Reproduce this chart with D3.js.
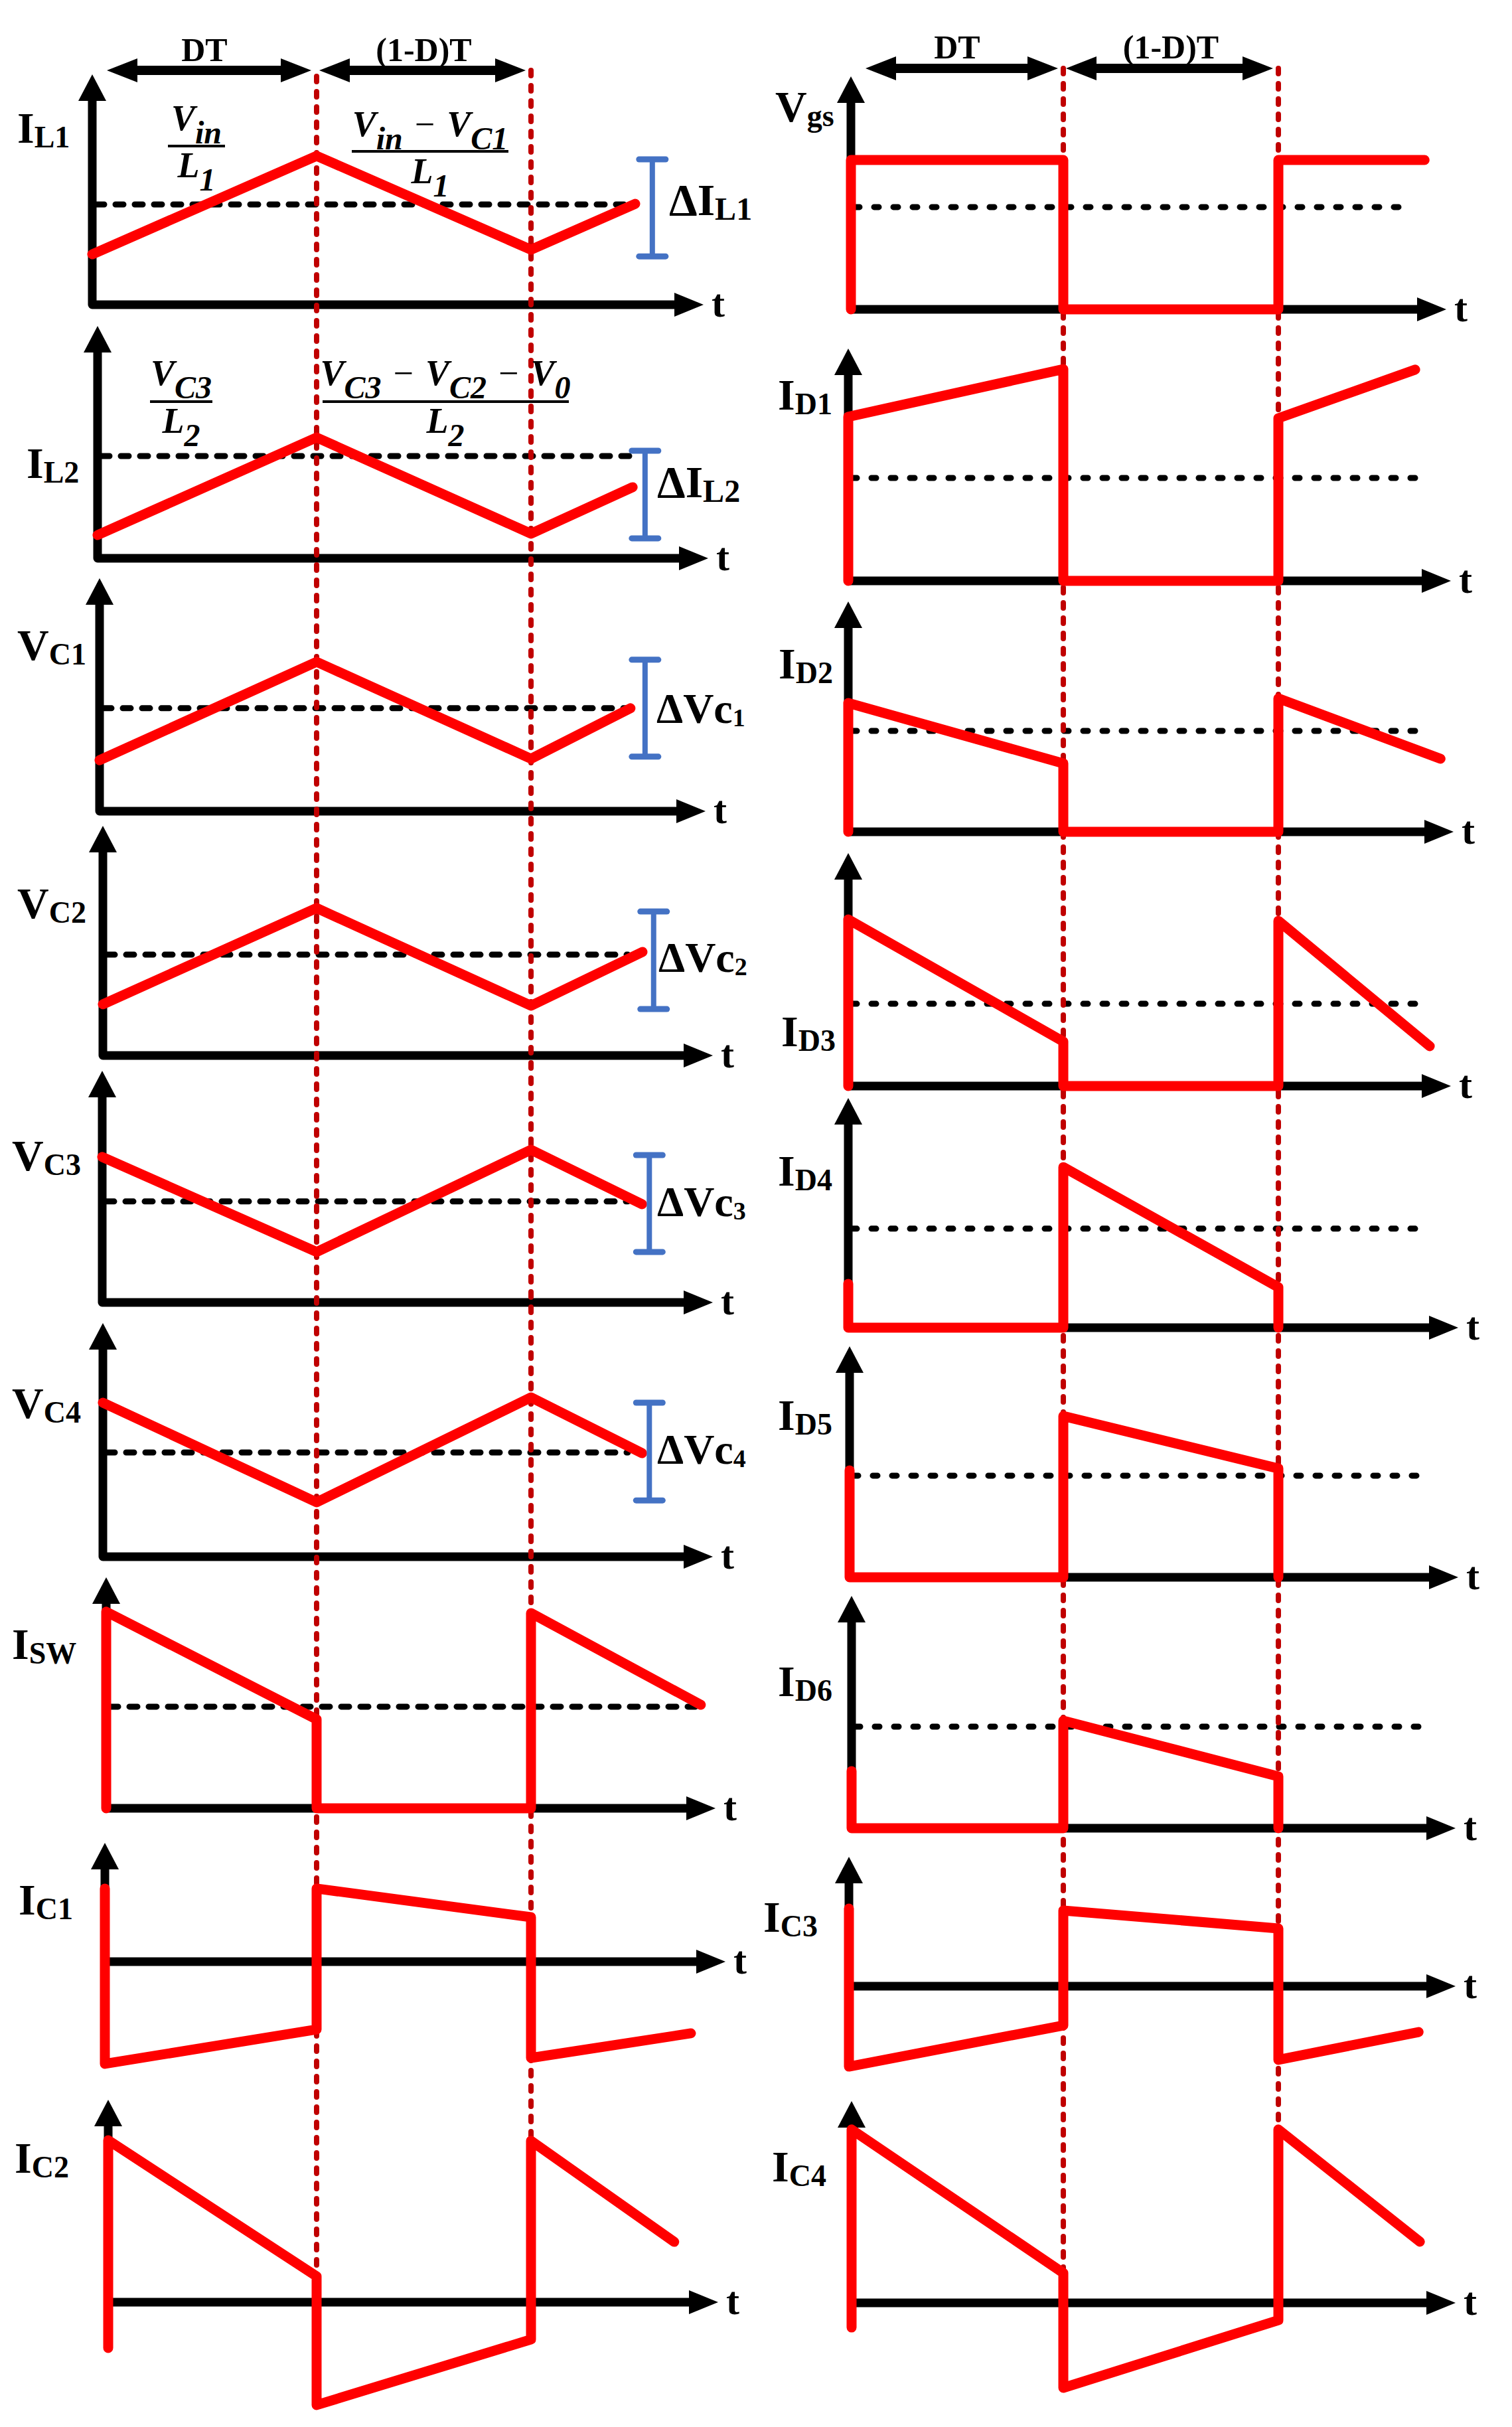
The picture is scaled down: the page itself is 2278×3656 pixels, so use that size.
<!DOCTYPE html>
<html><head><meta charset="utf-8">
<script src="https://cdn.jsdelivr.net/npm/d3@7"></script>
<style>html,body{margin:0;padding:0;background:#fff}</style>
</head><body>
<svg id="c" width="2278" height="3656" xmlns="http://www.w3.org/2000/svg"></svg>
<script>
// ===================== DATA =====================
// time in units of T : origin, DT (D = 0.5), T
const timeBreaks = [0, 0.5, 1];
// values are in % of the vertical-axis height measured from the t axis

// ---- left column ----
const tIL1 = [0, 0.5, 1, 1.243];               const vIL1 = [21.9, 64.6, 23.9, 43.8];
const tIL2 = [0, 0.5, 1, 1.237];               const vIL2 = [10.0, 52.0, 10.6, 30.6];
const tVC1 = [0, 0.5, 1, 1.232];               const vVC1 = [21.9, 64.1, 22.5, 44.2];
const tVC2 = [0, 0.5, 1, 1.260];               const vVC2 = [22.3, 64.2, 21.7, 45.1];
const tVC3 = [0, 0.5, 1, 1.259];               const vVC3 = [62.8, 21.8, 65.9, 42.4];
const tVC4 = [0, 0.5, 1, 1.259];               const vVC4 = [65.9, 23.3, 68.2, 44.3];
const tISW = [0, 0, 0.5, 0.5, 1, 1, 1.396];    const vISW = [0, 85.1, 38.5, 0, 0, 84.5, 44.8];
const tIC1 = [0, 0, 0.5, 0.5, 1, 1, 1.373];    const vIC1 = [61.5, -86.0, -57.0, 61.5, 37.4, -81.0, -60.3];
const tIC2 = [0, 0, 0.5, 0.5, 1, 1, 1.334];    const vIC2 = [-22.6, 80.0, 12.8, -50.8, -18.4, 79.7, 29.8];
// ---- right column ----
const tVgs = [0, 0, 0.5, 0.5, 1, 1, 1.340];    const vVgs = [0, 64.1, 64.1, 0, 0, 64.1, 64.1];
const tID1 = [0, 0, 0.5, 0.5, 1, 1, 1.318];    const vID1 = [0, 70.6, 91.1, 0, 0, 70.0, 90.9];
const tID2 = [0, 0, 0.5, 0.5, 1, 1, 1.377];    const vID2 = [0, 55.9, 29.7, 0, 0, 57.9, 31.7];
const tID3 = [0, 0, 0.5, 0.5, 1, 1, 1.352];    const vID3 = [0, 71.5, 19.1, 0, 0, 70.9, 17.1];
const tID4 = [0, 0, 0.5, 0.5, 1, 1];           const vID4 = [19.1, 0, 0, 69.9, 17.6, 0];
const tID5 = [0, 0, 0.5, 0.5, 1, 1];           const vID5 = [46.3, 0, 0, 69.8, 47.1, 0];
const tID6 = [0, 0, 0.5, 0.5, 1, 1];           const vID6 = [24.6, 0, 0, 46.3, 22.3, 0];
const tIC3 = [0, 0, 0.5, 0.5, 1, 1, 1.326];    const vIC3 = [60.0, -62.1, -30.3, 58.5, 44.6, -56.9, -35.4];
const tIC4 = [0, 0, 0.5, 0.5, 1, 1, 1.329];    const vIC4 = [-12.2, 85.9, 14.8, -42.1, -8.6, 85.9, 30.3];

// panel ids, axis labels
const panelIds  = ["IL1","IL2","VC1","VC2","VC3","VC4","ISW","IC1","IC2",
                   "Vgs","ID1","ID2","ID3","ID4","ID5","ID6","IC3","IC4"];
const labelMain = ["I","I","V","V","V","V","I","I","I",
                   "V","I","I","I","I","I","I","I","I"];
const labelSub  = ["L1","L2","C1","C2","C3","C4","SW","C1","C2",
                   "gs","D1","D2","D3","D4","D5","D6","C3","C4"];

// average (dashed) levels
const meanIds   = ["IL1","IL2","VC1","VC2","VC3","VC4","ISW","Vgs","ID1","ID2","ID3","ID4","ID5","ID6"];
const meanLevel = [43.5, 44.0, 44.2, 43.9, 43.6, 44.6, 44.0, 43.9, 44.3, 43.8, 35.3, 43.1, 44.0, 43.7];
const meanEnd   = [1.238, 1.237, 1.226, 1.226, 1.226, 1.226, 1.396, 1.312, 1.318, 1.324, 1.324, 1.329, 1.335, 1.335];

// ripple bars
const rippleIds  = ["IL1","IL2","VC1","VC2","VC3","VC4"];
const rippleT    = [1.283, 1.266, 1.266, 1.286, 1.276, 1.276];
const rippleLo   = [21.0, 8.6, 23.4, 20.2, 21.8, 24.1];
const rippleHi   = [63.1, 46.3, 65.0, 62.7, 63.6, 65.9];
const rippleMain = ["ΔI","ΔI","ΔVc","ΔVc","ΔVc","ΔVc"];
const rippleSub  = ["L1","L2","1","2","3","4"];

// interval labels
const intervalLabels = ["DT", "(1-D)T"];

// slope formulas: [text, kind]  kind: m = main, s = subscript, o = operator
const formulaNum = [
  [["V","m"],["in","s"]],
  [["V","m"],["in","s"],["−","o"],["V","m"],["C1","s"]],
  [["V","m"],["C3","s"]],
  [["V","m"],["C3","s"],["−","o"],["V","m"],["C2","s"],["−","o"],["V","m"],["0","s"]]
];
const formulaDen = [
  [["L","m"],["1","s"]],
  [["L","m"],["1","s"]],
  [["L","m"],["2","s"]],
  [["L","m"],["2","s"]]
];

// ===================== LAYOUT (pixels) =====================
const W = {
  IL1:[tIL1,vIL1], IL2:[tIL2,vIL2], VC1:[tVC1,vVC1], VC2:[tVC2,vVC2], VC3:[tVC3,vVC3], VC4:[tVC4,vVC4],
  ISW:[tISW,vISW], IC1:[tIC1,vIC1], IC2:[tIC2,vIC2], Vgs:[tVgs,vVgs], ID1:[tID1,vID1], ID2:[tID2,vID2],
  ID3:[tID3,vID3], ID4:[tID4,vID4], ID5:[tID5,vID5], ID6:[tID6,vID6], IC3:[tIC3,vIC3], IC4:[tIC4,vIC4]
};
const cols = [
  {d1:477, d2:800, vTop:[115,106], vBot:[3429,3225], arrowY:106, textY:92},
  {d1:1602, d2:1926, vTop:[103,103], vBot:[3424,3208], arrowY:103, textY:88}
];
// col, x0 (y-axis), y0 (t-axis), yTop (arrow tip), yBot (y-axis bottom), tip (t arrow tip), label x, label baseline
const frame = {
  IL1:[0,139,459,112,459,1060, 26,215],
  IL2:[0,147,841,491,841,1067, 40,720],
  VC1:[0,150,1222,871,1222,1063, 26,994],
  VC2:[0,155,1590,1244,1590,1074, 26,1383],
  VC3:[0,154,1962,1613,1962,1074, 18,1763],
  VC4:[0,155,2345,1993,2345,1074, 18,2136],
  ISW:[0,160,2724,2376,2724,1078, 18,2499],
  IC1:[0,158,2955,2776,3109,1093, 28,2884],
  IC2:[0,163,3468,3163,3537,1082, 22,3273],
  Vgs:[1,1282,466,115,466,2179, 1168,183],
  ID1:[1,1278,875,525,875,2186, 1172,617],
  ID2:[1,1278,1253,906,1253,2190, 1173,1022],
  ID3:[1,1278,1636,1285,1636,2186, 1177,1576],
  ID4:[1,1278,2000,1654,2000,2197, 1172,1786],
  ID5:[1,1280,2376,2028,2376,2197, 1172,2154],
  ID6:[1,1283,2754,2404,2754,2193, 1172,2555],
  IC3:[1,1279,2992,2797,3113,2193, 1150,2910],
  IC4:[1,1283,3469,3165,3506,2193, 1163,3286]
};
const rippleLabelPos = [[1008,324],[990,749],[989,1089],[992,1464],[990,1832],[990,2205]];
// formula: centre x, numerator baseline, bar y, bar x1, bar x2, denominator baseline
const formulaPos = [
  [296,196,220,253,339,267],
  [648,205,228,530,766,276],
  [273,580,605,226,320,652],
  [671,580,605,486,857,652]
];

// ===================== STYLE =====================
const RED = "#ff0000", DRED = "#c00000", BLUE = "#4472c4", BLK = "#000";
const SERIF = "'Liberation Serif','Times New Roman',serif";

// ===================== DRAW =====================
const svg = d3.select("#c");
svg.append("rect").attr("width",2278).attr("height",3656).attr("fill","#fff");
const gAxes = svg.append("g"), gMean = svg.append("g"), gVert = svg.append("g"),
      gWave = svg.append("g"), gAnn = svg.append("g");

const S = {};
panelIds.forEach((id, i) => {
  const [col,x0,y0,yTop,yBot,tip,lx,ly] = frame[id];
  const c = cols[col];
  const x = d3.scaleLinear().domain(timeBreaks).range([x0, c.d1, c.d2]);
  const y = d3.scaleLinear().domain([0, 100]).range([y0, yTop]);
  S[id] = {x, y, col};
  const ah = 40, aw = 42;
  // axes
  if (yBot > y0) {
    gAxes.append("line").attr("x1",x0).attr("y1",yBot).attr("x2",x0).attr("y2",yTop+ah-4)
      .attr("stroke",BLK).attr("stroke-width",13).attr("stroke-linecap","round");
    gAxes.append("line").attr("x1",x0).attr("y1",y0).attr("x2",tip-ah+4).attr("y2",y0)
      .attr("stroke",BLK).attr("stroke-width",13);
  } else {
    gAxes.append("path").attr("d",`M${x0},${yTop+ah-4}L${x0},${y0}L${tip-ah+4},${y0}`)
      .attr("fill","none").attr("stroke",BLK).attr("stroke-width",13).attr("stroke-linejoin","round");
  }
  gAxes.append("path").attr("d",`M${x0},${yTop}L${x0-aw/2},${yTop+ah}L${x0+aw/2},${yTop+ah}Z`).attr("fill",BLK);
  gAxes.append("path").attr("d",`M${tip},${y0}L${tip-ah-4},${y0-aw/2+3}L${tip-ah-4},${y0+aw/2-3}Z`).attr("fill",BLK);
  gAnn.append("text").attr("x",tip+12).attr("y",y0+18).attr("font-family",SERIF).attr("font-weight","bold")
    .attr("font-size",60).text("t");
  // axis label
  const t = gAnn.append("text").attr("x",lx).attr("y",ly).attr("font-family",SERIF).attr("font-weight","bold");
  t.append("tspan").attr("font-size",66).text(labelMain[i]);
  t.append("tspan").attr("font-size",46).attr("dy",7).text(labelSub[i]);
  // waveform
  const [tt, vv] = W[id];
  const pts = tt.map((d, k) => [d, vv[k]]);
  gWave.append("path").datum(pts)
    .attr("d", d3.line().x(d => x(d[0])).y(d => y(d[1])))
    .attr("fill","none").attr("stroke",RED).attr("stroke-width",15)
    .attr("stroke-linejoin","round").attr("stroke-linecap","round");
});

// mean dashed lines
meanIds.forEach((id, i) => {
  const {x, y, col} = S[id];
  gMean.append("line")
    .attr("x1", x(0)+6).attr("x2", x(meanEnd[i]))
    .attr("y1", y(meanLevel[i])).attr("y2", y(meanLevel[i]))
    .attr("stroke",BLK).attr("stroke-width", 9)
    .attr("stroke-linecap","round")
    .attr("stroke-dasharray", col ? "7,22" : "12,17");
});

// vertical red dashed switching lines and interval arrows
cols.forEach((c, ci) => {
  const x = S[ci ? "Vgs" : "IL1"].x;
  [0.5, 1].forEach((tv, k) => {
    gVert.append("line").attr("x1",x(tv)).attr("x2",x(tv))
      .attr("y1",c.vTop[k]).attr("y2",c.vBot[k])
      .attr("stroke",DRED).attr("stroke-width",8).attr("stroke-linecap","round")
      .attr("stroke-dasharray","8,15");
  });
  const segs = [[x(0)+22, x(0.5)-8], [x(0.5)+4, x(1)-8]];
  segs.forEach(([a, b], k) => {
    const hl = 46, hw = 36, yA = c.arrowY;
    gAnn.append("line").attr("x1",a+hl-4).attr("x2",b-hl+4).attr("y1",yA).attr("y2",yA)
      .attr("stroke",BLK).attr("stroke-width",14);
    gAnn.append("path").attr("d",`M${a},${yA}L${a+hl},${yA-hw/2}L${a+hl},${yA+hw/2}Z`).attr("fill",BLK);
    gAnn.append("path").attr("d",`M${b},${yA}L${b-hl},${yA-hw/2}L${b-hl},${yA+hw/2}Z`).attr("fill",BLK);
    gAnn.append("text").attr("x",(k ? (x(0.5)+x(1))/2 : (x(0)+x(0.5))/2)).attr("y",c.textY)
      .attr("text-anchor","middle").attr("font-family",SERIF).attr("font-weight","bold")
      .attr("font-size",50).text(intervalLabels[k]);
  });
});

// ripple bars
rippleIds.forEach((id, i) => {
  const {x, y} = S[id];
  const bx = x(rippleT[i]), y1 = y(rippleHi[i]), y2 = y(rippleLo[i]);
  gAnn.append("line").attr("x1",bx).attr("x2",bx).attr("y1",y1).attr("y2",y2)
    .attr("stroke",BLUE).attr("stroke-width",8);
  [y1, y2].forEach(yy => gAnn.append("line").attr("x1",bx-20).attr("x2",bx+20).attr("y1",yy).attr("y2",yy)
    .attr("stroke",BLUE).attr("stroke-width",9).attr("stroke-linecap","round"));
  const [lx, ly] = rippleLabelPos[i];
  const t = gAnn.append("text").attr("x",lx).attr("y",ly).attr("font-family",SERIF).attr("font-weight","bold");
  const isV = rippleMain[i].indexOf("V") >= 0;
  t.append("tspan").attr("font-size",isV ? 64 : 68).text(rippleMain[i]);
  t.append("tspan").attr("font-size",isV ? 38 : 48).attr("dy",isV ? 5 : 7).text(rippleSub[i]);
});

// slope formulas
function mathLine(parts, cx, base, subDy) {
  const t = gAnn.append("text").attr("x",cx).attr("y",base).attr("text-anchor","middle")
    .attr("font-family",SERIF).attr("font-weight","bold").attr("font-style","italic")
    .attr("xml:space","preserve").style("white-space","pre");
  let cur = 0;
  parts.forEach(([txt, kind]) => {
    const target = kind === "s" ? subDy : 0;
    t.append("tspan").attr("dy", target - cur)
      .attr("font-size", kind === "s" ? 48 : 54)
      .attr("font-style", kind === "o" ? "normal" : "italic")
      .attr("font-weight", kind === "o" ? "normal" : "bold")
      .text(kind === "o" ? "\u2004" + txt + "\u2004" : txt);
    cur = target;
  });
}
formulaPos.forEach(([cx, nb, by, bx1, bx2, db], i) => {
  mathLine(formulaNum[i], cx, nb, 20);
  gAnn.append("line").attr("x1",bx1).attr("x2",bx2).attr("y1",by).attr("y2",by)
    .attr("stroke",BLK).attr("stroke-width",4);
  mathLine(formulaDen[i], cx, db, 20);
});
</script>
</body></html>
